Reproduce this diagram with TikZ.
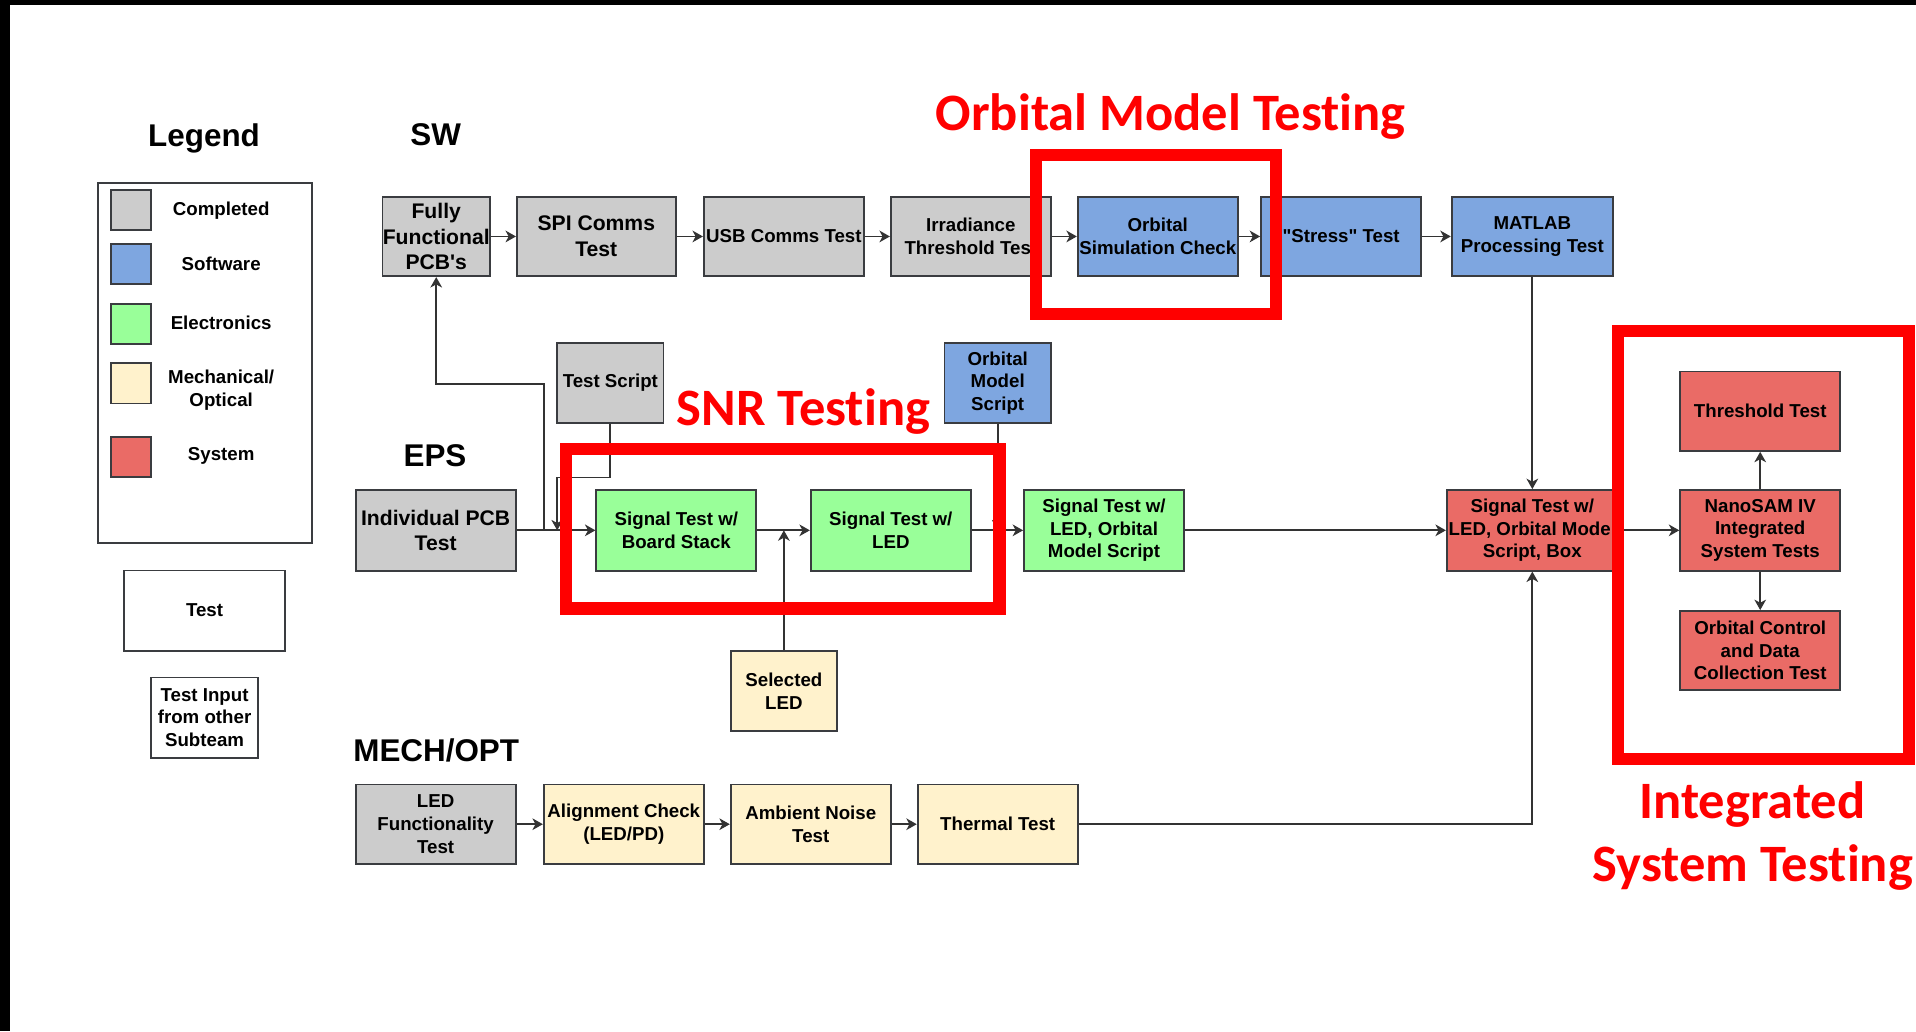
\documentclass[tikz,border=0pt]{standalone}
\usepackage{fontspec}
\setmainfont{Liberation Sans}[Ligatures=TeXOff]
\newfontfamily\calib{Carlito}[Ligatures={NoCommon,TeXOff}]
\usetikzlibrary{arrows.meta,calc}

\definecolor{edgec}{HTML}{3A3C40}
\definecolor{donec}{HTML}{CCCCCC}
\definecolor{swc}{HTML}{7EA6E0}
\definecolor{elc}{HTML}{99FF99}
\definecolor{mechc}{HTML}{FFF2CC}
\definecolor{sysc}{HTML}{EA6B66}
\definecolor{hilite}{HTML}{FF0000}

\begin{document}
\begin{tikzpicture}[x=1pt,y=-1pt,
  box/.style={draw=edgec, line width=1.5pt, inner sep=0pt, align=center,
    minimum width=131pt, minimum height=65pt,
    font=\fontsize{15.3}{18.5}\selectfont\bfseries},
  bigtxt/.style={font=\fontsize{17.3}{21}\selectfont\bfseries},
  done/.style={box, fill=donec},
  sw/.style={box, fill=swc},
  ele/.style={box, fill=elc},
  mech/.style={box, fill=mechc},
  sys/.style={box, fill=sysc},
  plain/.style={box, fill=white},
  swatch/.style={draw=edgec, line width=1.5pt, minimum width=33pt, minimum height=33pt, inner sep=0pt},
  legtxt/.style={font=\fontsize{15.3}{18.5}\selectfont\bfseries, align=center, inner sep=0pt},
  conn/.style={draw=black!80, line width=1.5pt},
  arr/.style={conn, -{Stealth[length=8.5pt,width=9.5pt,inset=2.5pt]}},
  heading/.style={font=\fontsize{25.7}{30}\selectfont\bfseries, anchor=base, inner sep=0pt},
  frame/.style={draw=hilite, line width=10pt},
  banner/.style={text=hilite, font=\calib\fontsize{43}{52}\selectfont\bfseries, anchor=base, inner sep=0pt}
]
\useasboundingbox (0,0) rectangle (1568,844);
\fill[white] (0,0) rectangle (1568,844);
% dark edge bands
\fill[black] (0,0) rectangle (1568,4);
\fill[black] (0,0) rectangle (8,844);

% ---------- legend ----------
\node[heading] (legendtitle) at (167,120) {Legend};
\node[draw=edgec, line width=1.5pt, minimum width=175pt, minimum height=294.5pt, inner sep=0pt] (legendbox) at (167.5,297.3) {};
\node[swatch, fill=donec] (kdone) at (107,172) {};
\node[swatch, fill=swc]   (ksw)   at (107,216) {};
\node[swatch, fill=elc]   (kele)  at (107,265) {};
\node[swatch, fill=mechc] (kmech) at (107,313.7) {};
\node[swatch, fill=sysc]  (ksys)  at (107,374) {};
\node[legtxt] (ldone) at (181,172) {Completed};
\node[legtxt] (lsw)   at (181,215.5) {Software};
\node[legtxt] (lele)  at (181,264.5) {Electronics};
\node[legtxt] (lmech) at (181,319.5) {Mechanical/\\Optical};
\node[legtxt] (lsys)  at (181,373.5) {System};
\node[plain, minimum width=132pt, minimum height=65.6pt] (ltest) at (167.4,499.7) {Test};
\node[plain, minimum width=88pt, minimum height=65.7pt] (linput) at (167.4,587.3) {Test Input\\from other\\Subteam};

% ---------- section headings ----------
\node[heading] (hsw)   at (356.5,119) {SW};
\node[heading] (heps)  at (356,382) {EPS};
\node[heading] (hmech) at (357,623) {MECH/OPT};

% ---------- software row ----------
\node[done, bigtxt, minimum width=88pt] (fully) at (357,193.5) {Fully\\Functional\\PCB's};
\node[done, bigtxt, minimum width=130pt] (spi) at (488,193.5) {SPI Comms\\Test};
\node[done] (usb) at (641.5,193.5) {USB Comms Test};
\node[done] (irr) at (794.5,193.5) {Irradiance\\Threshold Test};
\node[sw] (orbsim) at (947.5,193.5) {Orbital\\Simulation Check};
\node[sw] (stress) at (1097.5,193.5) {"Stress" Test};
\node[sw, minimum width=132pt] (matlab) at (1254,193.5) {MATLAB\\Processing Test};

% ---------- electronics row ----------
\node[done, bigtxt, minimum height=66pt] (indiv) at (356.5,434) {Individual PCB\\Test};
\node[ele, minimum height=66pt] (sigboard) at (553.5,434) {Signal Test w/\\Board Stack};
\node[ele, minimum height=66pt] (sigled) at (729,434) {Signal Test w/\\LED};
\node[ele, minimum height=66pt] (sigorb) at (903.5,434) {Signal Test w/\\LED, Orbital\\Model Script};
\node[sys, minimum height=66pt, minimum width=140pt] (sigbox) at (1254,434) {Signal Test w/\\LED, Orbital Model\\Script, Box};
\node[done, minimum width=87pt] (testscript) at (499.5,313.5) {Test Script};
\node[sw, minimum width=87pt] (orbscript) at (816.5,313.5) {Orbital\\Model\\Script};
\node[mech, minimum width=87pt] (selled) at (641.5,565.5) {Selected\\LED};

% ---------- system column ----------
\node[sys] (thresh) at (1440.5,336.5) {Threshold Test};
\node[sys, minimum height=66pt] (nano) at (1440.5,434) {NanoSAM IV\\Integrated\\System Tests};
\node[sys] (orbctrl) at (1440.5,532.5) {Orbital Control\\and Data\\Collection Test};

% ---------- mechanical / optical row ----------
\node[done] (ledfunc) at (356.5,674.5) {LED\\Functionality\\Test};
\node[mech] (align) at (510.5,674.5) {Alignment Check\\(LED/PD)};
\node[mech] (ambient) at (663.5,674.5) {Ambient Noise\\Test};
\node[mech] (thermal) at (816.5,674.5) {Thermal Test};

% ---------- connectors ----------
\draw[arr] (fully.east) -- (spi.west);
\draw[arr] (spi.east) -- (usb.west);
\draw[arr] (usb.east) -- (irr.west);
\draw[arr] (irr.east) -- (orbsim.west);
\draw[arr] (orbsim.east) -- (stress.west);
\draw[arr] (stress.east) -- (matlab.west);

\coordinate (jpcb) at (445,434);
\coordinate (jscript) at (456,434);
\draw[arr] (indiv.east) -- (sigboard.west);
\draw[arr] (jpcb) -- (445,314) -| (fully.south);
\draw[arr] (testscript.south) -- ++(0,44) -| (jscript);
\draw[arr] (sigboard.east) -- (sigled.west);
\draw[arr] (selled.north) -- (selled.north |- sigled.west);
\draw[arr] (sigled.east) -- (sigorb.west);
\draw[arr] (orbscript.south) -- (orbscript.south |- sigorb.west);
\draw[arr] (sigorb.east) -- (sigbox.west);
\draw[arr] (matlab.south) -- (sigbox.north);
\draw[arr] (thermal.east) -| (sigbox.south);
\draw[arr] (sigbox.east) -- (nano.west);
\draw[arr] (nano.north) -- (thresh.south);
\draw[arr] (nano.south) -- (orbctrl.north);

\draw[arr] (ledfunc.east) -- (align.west);
\draw[arr] (align.east) -- (ambient.west);
\draw[arr] (ambient.east) -- (thermal.west);

% ---------- highlighted test groups ----------
\draw[frame] (848,127) rectangle (1044,257);
\draw[frame] (463,367.5) rectangle (818,498);
\draw[frame] (1324,271) rectangle (1562,621);

\node[banner] (orbtitle) at (958,107) {Orbital Model Testing};
\node[banner] (snrtitle) at (657.5,348.6) {SNR Testing};
\node[banner] (sysline1) at (1434,670) {Integrated};
\node[banner] (sysline2) at (1434.5,721.5) {System Testing};
\end{tikzpicture}
\end{document}
